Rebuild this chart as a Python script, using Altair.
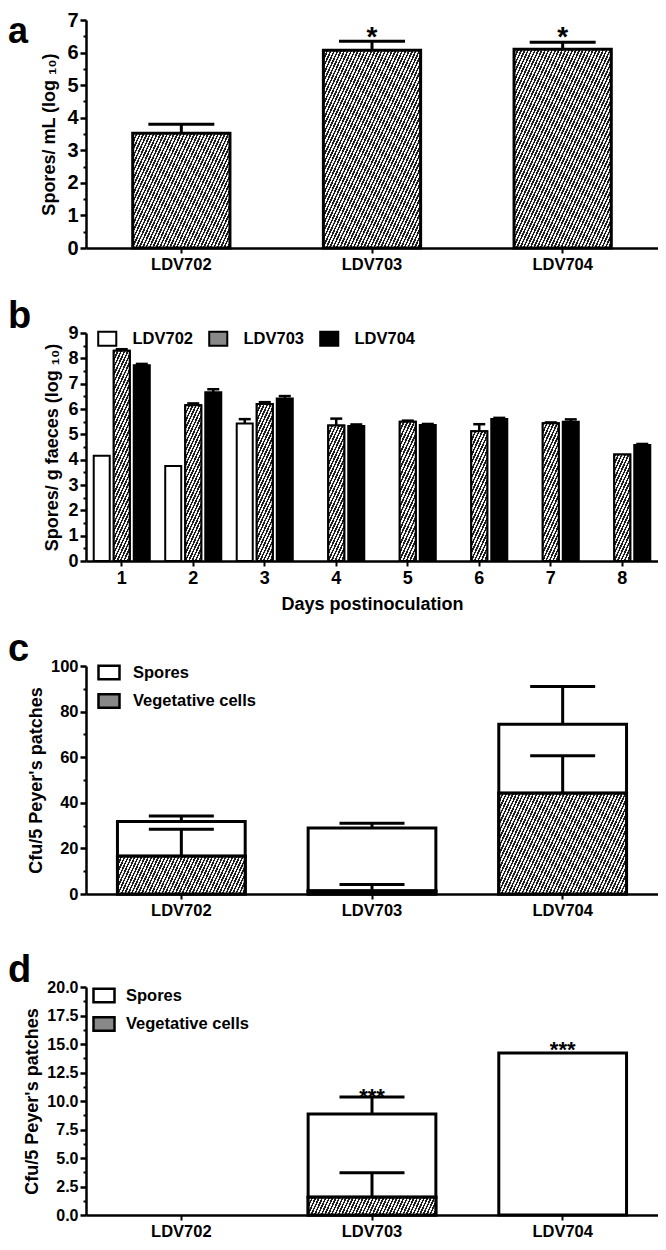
import altair as alt
import pandas as pd

FONT = "Liberation Sans"
W = 572
H = 228
STRAINS = ["LDV702", "LDV703", "LDV704"]
DARK = "#1e1e1e"
LIGHT = "#f4f4f4"

# ---------------- panel a ----------------
a_strain = ["LDV702", "LDV703", "LDV704"]
a_mean = [3.52, 6.07, 6.10]
a_upper = [3.80, 6.35, 6.32]
a_star = ["", "*", "*"]
a_star_y = [None, 6.68, 6.68]

# ---------------- panel b ----------------
b_day = [1, 2, 3, 4, 5, 6, 7, 8]
b_ldv702 = [4.15, 3.75, 5.43, None, None, None, None, None]
b_ldv702_up = [None, None, 5.60, None, None, None, None, None]
b_ldv703 = [8.30, 6.15, 6.20, 5.35, 5.50, 5.12, 5.44, 4.20]
b_ldv703_up = [8.36, 6.22, 6.27, 5.62, 5.54, 5.40, 5.47, None]
b_ldv704 = [7.73, 6.66, 6.41, 5.33, 5.37, 5.61, 5.50, 4.58]
b_ldv704_up = [7.78, 6.78, 6.51, 5.39, 5.41, 5.65, 5.59, 4.62]

# ---------------- panel c ----------------
c_strain = ["LDV702", "LDV703", "LDV704"]
c_veg = [16.6, 1.3, 44.2]
c_spores = [15.2, 27.6, 30.3]
c_veg_up = [28.4, 4.2, 60.6]
c_total_up = [34.2, 31.0, 91.0]

# ---------------- panel d ----------------
d_strain = ["LDV702", "LDV703", "LDV704"]
d_veg = [0.0, 1.55, 0.0]
d_spores = [0.0, 7.3, 14.2]
d_veg_up = [None, 3.7, None]
d_total_up = [None, 10.35, None]
d_star = ["", "***", "***"]
d_star_y = [None, 10.9, 15.0]

SEGMENTS = ["Spores", "Vegetative cells"]
RECT_B = "M-1.29,-1H1.29V1H-1.29Z"
RECT_CD = "M-1.5,-0.95H1.5V0.95H-1.5Z"


def hatch(w, h, period=3.4, slope=2.2, duty=0.5):
    h = max(h, 1.0)
    k = h / (slope * w)
    c = (1 + k) / (1 + k * k)
    n = max(2, int(round(w * (1 + k) / period)))
    stops = []
    for i in range(n):
        o0 = round(i / n, 6)
        o1 = round((i + duty) / n, 6)
        o2 = min(1.0, round((i + 1) / n, 6))
        stops += [
            alt.GradientStop(color=DARK, offset=o0),
            alt.GradientStop(color=DARK, offset=o1),
            alt.GradientStop(color=LIGHT, offset=o1),
            alt.GradientStop(color=LIGHT, offset=o2),
        ]
    return alt.LinearGradient(gradient="linear", stops=stops, x1=0, y1=0,
                              x2=round(c, 6), y2=round(c * k, 6))


def x_axis(label_size, title=None):
    kw = dict(labelAngle=0, labelFontSize=label_size, labelFontWeight="bold", labelFont=FONT,
              tickSize=5, tickWidth=2, domainWidth=2.5, labelPadding=3, grid=False)
    if title:
        kw.update(title=title, titleFontSize=18, titleFontWeight="bold", titleFont=FONT, titlePadding=8)
    else:
        kw["title"] = None
    return alt.Axis(**kw)


def y_major(values, label_size, title, fmt=None, title_pad=6):
    kw = dict(values=values, title=title, orient="left", grid=False, tickSize=6, tickWidth=2.5,
              domainWidth=2.5, labelFontSize=label_size, labelFontWeight="bold", labelFont=FONT,
              labelPadding=2, titleFontSize=18, titleFontWeight="bold", titleFont=FONT,
              titlePadding=title_pad, labelFlush=False, labelOverlap=False)
    if fmt:
        kw["format"] = fmt
    return alt.Axis(**kw)


def y_minor(values):
    return alt.Axis(values=values, orient="left", labels=False, domain=False, tickSize=3,
                    tickWidth=2, title=None, grid=False)


def letter(ch, y, size=38):
    return alt.Chart(pd.DataFrame({"t": [ch]})).mark_text(
        fontSize=size, font=FONT, fontWeight="bold", align="left", baseline="alphabetic", color="black"
    ).encode(x=alt.value(-78), y=alt.value(y), text="t:N")


def spacer(h):
    return alt.Chart(pd.DataFrame({"v": [0]})).mark_point(opacity=0, size=1).encode(
        x=alt.value(0), y=alt.value(0)).properties(width=W, height=h)


# ================= panel a =================
df_a = pd.DataFrame({"strain": a_strain, "mean": a_mean, "upper": a_upper,
                     "star": a_star, "star_y": a_star_y})
xa = alt.X("strain:N", scale=alt.Scale(domain=a_strain, paddingInner=0, paddingOuter=0),
           axis=x_axis(16.5))
ya_scale = alt.Scale(domain=[0, 7], nice=False, zero=True)
bw_a = W / 3 * 0.51

a_layers = [
    alt.Chart(df_a).mark_point(opacity=0).encode(
        x=xa, y=alt.Y("mean:Q", scale=ya_scale, axis=y_minor([i + 0.5 for i in range(7)])))
]
for i, s in enumerate(a_strain):
    a_layers.append(
        alt.Chart(df_a).transform_filter(alt.datum.strain == s).mark_bar(
            fill=hatch(bw_a, a_mean[i] / 7 * H), stroke="black", strokeWidth=3,
            width=alt.RelativeBandSize(0.51)
        ).encode(x=xa, y=alt.Y("mean:Q", scale=ya_scale,
                               axis=y_major(list(range(8)), 20, "Spores/ mL (log ₁₀)", title_pad=8)
                               if i == 0 else None))
    )
a_layers += [
    alt.Chart(df_a).mark_rule(strokeWidth=3, color="black", opacity=1).encode(
        x=xa, y=alt.Y("mean:Q", axis=None), y2="upper:Q"),
    alt.Chart(df_a).mark_tick(size=66, thickness=3, color="black", opacity=1).encode(
        x=xa, y=alt.Y("upper:Q", axis=None)),
    alt.Chart(df_a).transform_filter("isValid(datum.star_y)").mark_text(
        fontSize=28, font=FONT, fontWeight="bold", baseline="middle", dy=7.7, color="black"
    ).encode(x=xa, y=alt.Y("star_y:Q", axis=None), text="star:N"),
    letter("a", 23, 36),
]
A = alt.layer(*a_layers).resolve_axis(y="independent").properties(width=W, height=H)

# ================= panel b =================
rows = []
for name, vals, ups in [("LDV702", b_ldv702, b_ldv702_up), ("LDV703", b_ldv703, b_ldv703_up),
                        ("LDV704", b_ldv704, b_ldv704_up)]:
    for d, v, u in zip(b_day, vals, ups):
        if v is not None:
            rows.append({"day": d, "strain": name, "value": v, "upper": u})
df_b = pd.DataFrame(rows)
xb = alt.X("day:O", scale=alt.Scale(domain=b_day, paddingInner=0.16, paddingOuter=0.08),
           axis=x_axis(18, "Days postinoculation"))
xob = alt.XOffset("strain:N", scale=alt.Scale(domain=STRAINS, paddingInner=0.2, paddingOuter=0.1))
yb_scale = alt.Scale(domain=[0, 9], nice=False, zero=True)
bw_b = W / 8 * 0.84 / 3 * 0.8

b_layers = [
    alt.Chart(df_b).mark_point(opacity=0).encode(
        x=xb, xOffset=xob,
        y=alt.Y("value:Q", scale=yb_scale, axis=y_minor([i + 0.5 for i in range(9)]))),
    alt.Chart(df_b).mark_bar(stroke="black", strokeWidth=2, opacity=1).encode(
        x=xb, xOffset=xob,
        y=alt.Y("value:Q", scale=yb_scale,
                axis=y_major(list(range(10)), 18, "Spores/ g faeces (log ₁₀)", title_pad=6)),
        fill=alt.Fill("strain:N", scale=alt.Scale(domain=STRAINS, range=["#ffffff", "#888888", "#000000"]),
                      legend=alt.Legend(orient="none", legendX=13, legendY=-3, direction="horizontal",
                                        title=None, symbolType=RECT_B, symbolSize=196,
                                        symbolStrokeColor="black", symbolStrokeWidth=2,
                                        labelFontSize=16.5, labelFont=FONT, labelFontWeight="bold",
                                        labelOffset=17, columnPadding=11, padding=0))),
]
for d, v in zip(b_day, b_ldv703):
    b_layers.append(
        alt.Chart(df_b).transform_filter((alt.datum.day == d) & (alt.datum.strain == "LDV703")).mark_bar(
            fill=hatch(bw_b, v / 9 * H), stroke="black", strokeWidth=2
        ).encode(x=xb, xOffset=xob, y=alt.Y("value:Q", axis=None))
    )
b_layers += [
    alt.Chart(df_b).transform_filter("isValid(datum.upper)").mark_rule(
        strokeWidth=2.5, color="black", opacity=1).encode(
        x=xb, xOffset=xob, y=alt.Y("value:Q", axis=None), y2="upper:Q"),
    alt.Chart(df_b).transform_filter("isValid(datum.upper)").mark_tick(
        size=12, thickness=2.5, color="black", opacity=1).encode(
        x=xb, xOffset=xob, y=alt.Y("upper:Q", axis=None)),
    letter("b", -5),
]
B = alt.layer(*b_layers).resolve_axis(y="independent").properties(width=W, height=H)


# ================= panels c and d =================
def stacked_panel(strains, veg, spores, veg_up, total_up, ymax, major, minor, fmt, label_size,
                  leg_x, leg_y, leg_off, letter_ch, stars=None, star_y=None):
    seg_rows, err_rows = [], []
    for s, v, sp, vu, tu in zip(strains, veg, spores, veg_up, total_up):
        seg_rows.append({"strain": s, "segment": "Spores", "lo": v, "hi": v + sp})
        seg_rows.append({"strain": s, "segment": "Vegetative cells", "lo": 0.0, "hi": v})
        if vu is not None:
            err_rows.append({"strain": s, "lo": v, "hi": vu})
        if tu is not None:
            err_rows.append({"strain": s, "lo": v + sp, "hi": tu})
    df_seg = pd.DataFrame(seg_rows)
    df_err = pd.DataFrame(err_rows)
    x = alt.X("strain:N", scale=alt.Scale(domain=strains, paddingInner=0, paddingOuter=0),
              axis=x_axis(16.5))
    ysc = alt.Scale(domain=[0, ymax], nice=False, zero=True)
    bw = W / 3 * 0.67
    layers = [
        alt.Chart(df_seg).mark_point(opacity=0).encode(
            x=x, y=alt.Y("hi:Q", scale=ysc, axis=y_minor(minor))),
        alt.Chart(df_seg).transform_filter("datum.hi > datum.lo").mark_bar(
            stroke="black", strokeWidth=3, opacity=1, width=alt.RelativeBandSize(0.67)
        ).encode(
            x=x, y=alt.Y("lo:Q", scale=ysc, axis=y_major(major, label_size, "Cfu/5 Peyer's patches", fmt, 5)),
            y2="hi:Q",
            fill=alt.Fill("segment:N", scale=alt.Scale(domain=SEGMENTS, range=["#ffffff", "#888888"]),
                          legend=alt.Legend(orient="none", legendX=leg_x, legendY=leg_y, direction="vertical",
                                            title=None, symbolType=RECT_CD, symbolSize=196,
                                            symbolStrokeColor="black", symbolStrokeWidth=2.5,
                                            labelFontSize=16.5, labelFont=FONT, labelFontWeight="bold",
                                            labelOffset=leg_off, rowPadding=3.5, padding=0))),
    ]
    for s, v in zip(strains, veg):
        if v > 0:
            layers.append(
                alt.Chart(df_seg).transform_filter(
                    (alt.datum.strain == s) & (alt.datum.segment == "Vegetative cells")
                ).mark_bar(fill=hatch(bw, v / ymax * H), stroke="black", strokeWidth=3,
                           width=alt.RelativeBandSize(0.67)
                ).encode(x=x, y=alt.Y("lo:Q", axis=None), y2="hi:Q")
            )
    layers += [
        alt.Chart(df_err).mark_rule(strokeWidth=3, color="black", opacity=1).encode(
            x=x, y=alt.Y("lo:Q", axis=None), y2="hi:Q"),
        alt.Chart(df_err).mark_tick(size=65, thickness=3, color="black", opacity=1).encode(
            x=x, y=alt.Y("hi:Q", axis=None)),
    ]
    if stars is not None:
        df_star = pd.DataFrame({"strain": strains, "star": stars, "star_y": star_y})
        layers.append(
            alt.Chart(df_star).transform_filter("isValid(datum.star_y)").mark_text(
                fontSize=22, font=FONT, fontWeight="bold", baseline="middle", dy=6, color="black"
            ).encode(x=x, y=alt.Y("star_y:Q", axis=None), text="star:N")
        )
    layers.append(letter(letter_ch, -5))
    return alt.layer(*layers).resolve_axis(y="independent").properties(width=W, height=H)


C = stacked_panel(c_strain, c_veg, c_spores, c_veg_up, c_total_up, 100,
                  [0, 20, 40, 60, 80, 100], [10, 30, 50, 70, 90], None, 16.5, 14.5, -2, 15.5, "c")
D = stacked_panel(d_strain, d_veg, d_spores, d_veg_up, d_total_up, 20,
                  [0, 2.5, 5, 7.5, 10, 12.5, 15, 17.5, 20],
                  [1.25, 3.75, 6.25, 8.75, 11.25, 13.75, 16.25, 18.75], ".1f", 16, 9.5, 0, 13.5, "d",
                  d_star, d_star_y)

chart = alt.vconcat(A, spacer(85), B, spacer(105), C, spacer(93), D, spacing=0, bounds="flush").resolve_scale(
    fill="independent", x="independent", y="independent"
).resolve_legend(fill="independent").properties(
    padding={"left": 0, "top": 2, "right": 0, "bottom": 0}
).configure_view(stroke=None).configure_axis(
    domainColor="black", tickColor="black", labelColor="black", titleColor="black",
    labelFont=FONT, titleFont=FONT
).configure_legend(labelColor="black", labelFont=FONT)

chart.save("out.html", embed_options={"renderer": "svg", "actions": False})
